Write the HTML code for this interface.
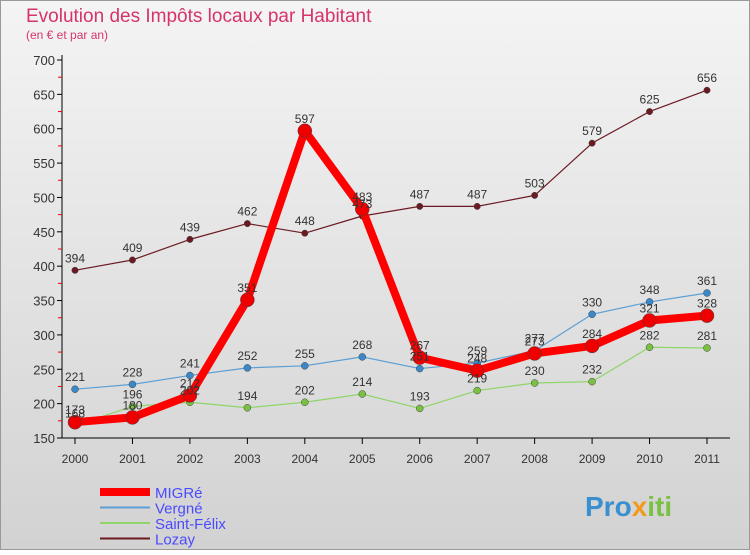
<!DOCTYPE html>
<html><head><meta charset="utf-8"><style>
body{margin:0;width:750px;height:550px;overflow:hidden;font-family:"Liberation Sans",sans-serif}
</style></head><body>
<svg id="c" width="750" height="550" xmlns="http://www.w3.org/2000/svg">
<defs><linearGradient id="bg" x1="0" y1="0" x2="0" y2="1"><stop offset="0" stop-color="#f4f4f4"/><stop offset="1" stop-color="#d2d2d2"/></linearGradient></defs>
<rect x="0.5" y="0.5" width="749" height="549" fill="url(#bg)" stroke="#999"/>
<text x="26" y="22" font-size="19" fill="#d6336c">Evolution des Impôts locaux par Habitant</text>
<text x="26" y="39" font-size="12" fill="#d6336c">(en € et par an)</text>
<g id="axes"></g><g id="series"></g><g id="labels"></g>
<g id="legend"></g>
<text x="585" y="516" font-size="28" font-weight="bold"><tspan fill="#3a8fd0">Pro</tspan><tspan fill="#f29a1c">x</tspan><tspan fill="#7ac143">iti</tspan></text>
</svg>
<script>
const years=[2000,2001,2002,2003,2004,2005,2006,2007,2008,2009,2010,2011];
const migre=[173,180,212,351,597,483,267,248,273,284,321,328];
const vergne=[221,228,241,252,255,268,251,259,277,330,348,361];
const stfelix=[168,196,202,194,202,214,193,219,230,232,282,281];
const lozay=[394,409,439,462,448,473,487,487,503,579,625,656];
const yTicks=[150,200,250,300,350,400,450,500,550,600,650,700];
const NS="http://www.w3.org/2000/svg";
const X=i=>75+i*(707-75)/11;
const Y=v=>438-(v-150)*(438-60)/550;
function mk(p,t,a){const e=document.createElementNS(NS,t);for(const k in a)e.setAttribute(k,a[k]);p.appendChild(e);return e;}
const ax=document.getElementById('axes');
let l=mk(ax,'line',{x1:62,y1:55,x2:62,y2:438,stroke:'#000'});

l=mk(ax,'line',{x1:62,y1:438,x2:730,y2:438,stroke:'#000'});

yTicks.forEach(v=>{mk(ax,'line',{x1:57,y1:Y(v),x2:62,y2:Y(v),stroke:'#000'});
 if(v<700)mk(ax,'line',{x1:58,y1:Y(v+25),x2:62,y2:Y(v+25),stroke:'#e00'});
 const t=mk(ax,'text',{x:55,y:Y(v)+5,'text-anchor':'end','font-size':13,fill:'#333'});t.textContent=v;
 });
years.forEach((y,i)=>{mk(ax,'line',{x1:X(i),y1:438,x2:X(i),y2:444,stroke:'#000'});
 const t=mk(ax,'text',{x:X(i),y:463,'text-anchor':'middle','font-size':12,fill:'#333'});t.textContent=y;
 });
const S=[
 {n:'Lozay',d:lozay,c:'#6b1a22',f:'#6b1a22',w:1.2,r:3.2},
 {n:'Saint-Félix',d:stfelix,c:'#8fd56a',f:'#7ac143',w:1.2,r:3.5},
 {n:'Vergné',d:vergne,c:'#5b9fd6',f:'#3a88c8',w:1.2,r:3.5},
 {n:'MIGRé',d:migre,c:'#ff0000',f:'#ee0000',w:8,r:7}];
const sg=document.getElementById('series'),lg=document.getElementById('labels');
S.forEach(s=>{
 const p=mk(sg,'polyline',{points:s.d.map((v,i)=>X(i)+','+Y(v)).join(' '),fill:'none',stroke:s.c,'stroke-width':s.w,'stroke-linejoin':'round'});
 
 s.d.forEach((v,i)=>{const c=mk(sg,'circle',{cx:X(i),cy:Y(v),r:s.r,fill:s.f,stroke:'#444','stroke-width':0.5});
  
  const t=mk(lg,'text',{x:X(i),y:Y(v)-8,'text-anchor':'middle','font-size':12,fill:'#333'});t.textContent=v;
  });
});
const L=[{n:'MIGRé',c:'#ff0000',w:8},{n:'Vergné',c:'#5b9fd6',w:2},{n:'Saint-Félix',c:'#8fd56a',w:2},{n:'Lozay',c:'#6b1a22',w:2}];
const lgd=document.getElementById('legend');
L.forEach((e,i)=>{const y=492+i*15.5;
 const ln=mk(lgd,'line',{x1:100,y1:y,x2:150,y2:y,stroke:e.c,'stroke-width':e.w});
 
 const t=mk(lgd,'text',{x:155,y:y+6,'font-size':15,fill:'#4a4aff'});t.textContent=e.n;
 });
</script>
</body></html>
